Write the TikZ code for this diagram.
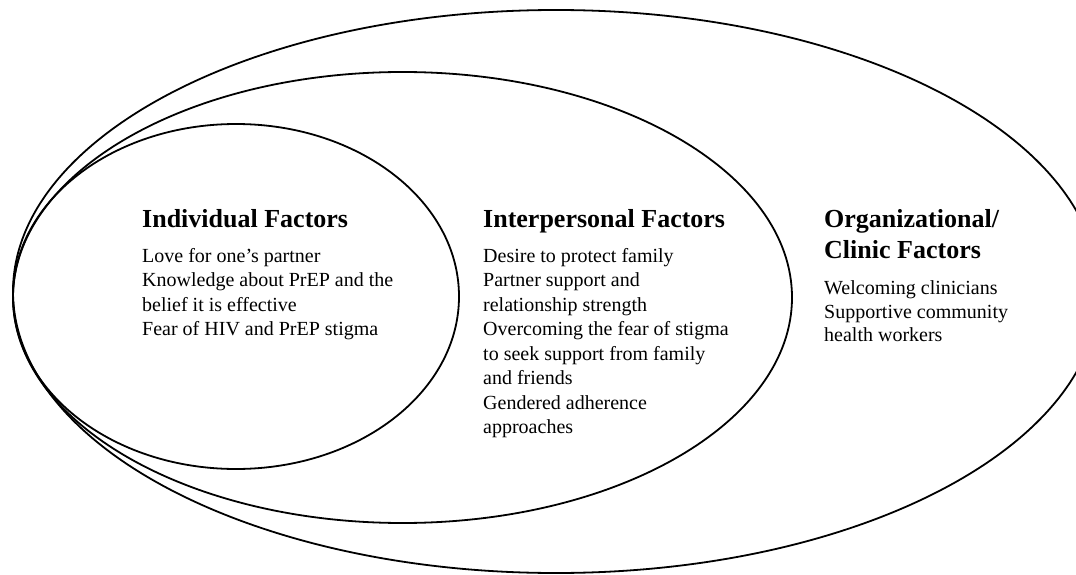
\documentclass[tikz,border=0pt]{standalone}
\usepackage{fontspec}
\setmainfont{Liberation Serif}
\begin{document}
\begin{tikzpicture}[x=1pt,y=-1pt,
  ring/.style={draw=black,line width=1.8pt},
  head/.style={anchor=base west,inner sep=0pt,align=left,
    font=\fontsize{26}{30.7}\selectfont\bfseries},
  body/.style={anchor=base west,inner sep=0pt,align=left,
    font=\fontsize{20}{24.5}\selectfont}]
\useasboundingbox (0,0) rectangle (1076,575);
\clip (0,0) rectangle (1076,575);
\fill[white] (0,0) rectangle (1076,575);

% nested levels, all touching on the left
\draw[ring] (556,291.5) ellipse [x radius=543, y radius=281.5];
\draw[ring] (402.5,297.5) ellipse [x radius=389.5, y radius=225.5];
\draw[ring] (236,296.5) ellipse [x radius=223, y radius=172.5];

% individual level (base anchor sits on the last line)
\node[head] (indH) at (142,227) {Individual Factors};
\node[body] (indB) at (142,335.5) {Love for one’s partner\\Knowledge about PrEP and the\\belief it is effective\\Fear of HIV and PrEP stigma};

% interpersonal level
\node[head] (intH) at (483,227) {Interpersonal Factors};
\node[body] (intB) at (483,433.5) {Desire to protect family\\Partner support and\\relationship strength\\Overcoming the fear of stigma\\to seek support from family\\and friends\\Gendered adherence\\approaches};

% organizational level
\node[head] (orgH) at (824,258.4) {Organizational/\\Clinic Factors};
\node[body,font=\fontsize{20}{23.7}\selectfont] (orgB) at (824,341.7) {Welcoming clinicians\\Supportive community\\health workers};
\end{tikzpicture}
\end{document}
